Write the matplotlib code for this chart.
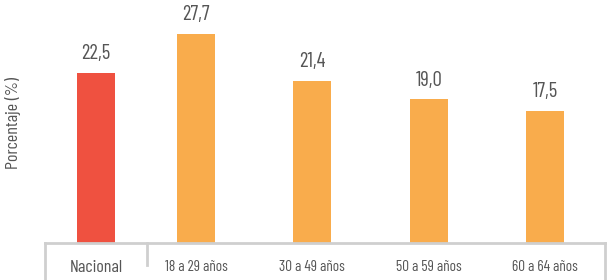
import numpy as np
import matplotlib.pyplot as plt

categories = ["Nacional", "18 a 29 años", "30 a 49 años", "50 a 59 años", "60 a 64 años"]
values = [22.5, 27.7, 21.4, 19.0, 17.5]
value_labels = ["22,5", "27,7", "21,4", "19,0", "17,5"]

plt.rcParams["font.family"] = ["Barlow Condensed", "DejaVu Sans"]

red = "#EF5140"
orange = "#F9AC4C"
txt = "#555555"
line = "#CFCFCF"

W, H = 611, 280
fig = plt.figure(figsize=(W / 100, H / 100), dpi=100)
base = 243
ax = fig.add_axes([45 / W, (H - base) / H, (605 - 45) / W, base / H])

unit = 116.3
pos = np.array([0, 100, 216, 333, 449]) / unit
colors = [red] + [orange] * 4
ax.bar(pos, values, width=38 / unit, color=colors)
ax.set_xlim(-51 / unit, (605 - 96) / unit)
ax.set_ylim(0, base / 7.56)

for x, v, s in zip(pos, values, value_labels):
    ax.annotate(s, (x, v), xytext=(0, 7), textcoords="offset points",
                ha="center", va="bottom", fontsize=15, color=txt)

for sp in ax.spines.values():
    sp.set_visible(False)
ax.set_yticks([])
ax.set_xticks([])

# tabla de categorias
kw = dict(color=line, lw=2, transform=fig.transFigure, clip_on=False)
fig.add_artist(plt.Line2D([45 / W, 605 / W], [(H - base) / H] * 2, **kw))
fig.add_artist(plt.Line2D([45 / W, 45 / W], [0, (H - base) / H], **kw))
fig.add_artist(plt.Line2D([605 / W, 605 / W], [0, (H - base) / H], **kw))
fig.add_artist(plt.Line2D([147 / W, 147 / W], [(H - 265) / H, (H - base) / H], **kw))

for i, (x, c) in enumerate(zip(pos, categories)):
    ax.text(x, -24 / 7.56, c, ha="center", va="center",
            fontsize=13 if i == 0 else 11, color=txt)

fig.text(13 / W, 1 - 123 / H, "Porcentaje (%)", rotation=90, ha="center",
         va="center", fontsize=13, color=txt)

fig.savefig("out.png", dpi=100)
